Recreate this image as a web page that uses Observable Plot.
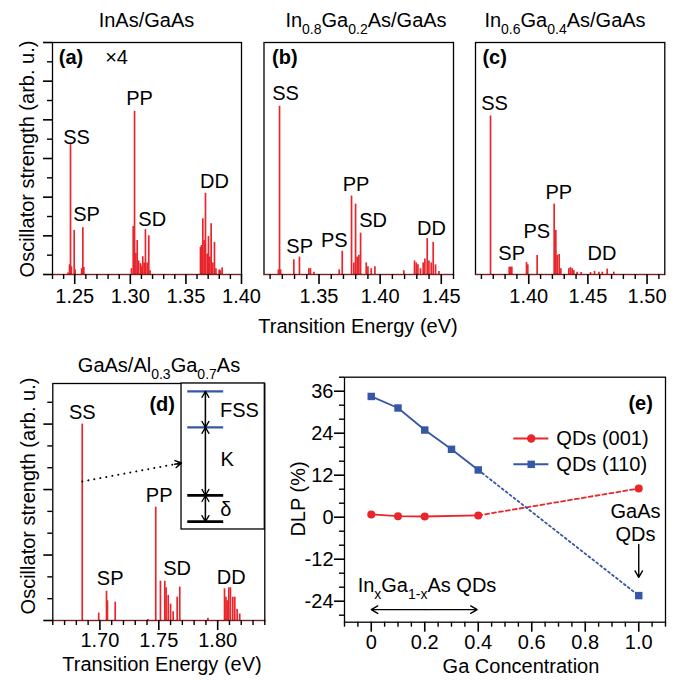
<!DOCTYPE html>
<html><head><meta charset="utf-8">
<script src="https://cdn.jsdelivr.net/npm/d3@7"></script>
<script src="https://cdn.jsdelivr.net/npm/@observablehq/plot@0.6"></script>
<style>
body{margin:0;background:#fff;}
#wrap{position:relative;width:682px;height:680px;overflow:hidden;background:#fff;}
#wrap svg{position:absolute;left:0;top:0;overflow:visible;}
</style></head><body><div id="wrap"></div>
<script>
const RED = "#e8262b", BLUE = "#3656a6";
const FONT = "'Liberation Sans', Arial, Helvetica, sans-serif";

// ---------- Data ----------
// (a) InAs/GaAs (x4)
const energyA = [1.2440,1.2453,1.2462,1.2470,1.2495,1.2503,1.2562,1.2573,1.2582,
  1.3010,1.3026,1.3038,1.3050,1.3062,1.3075,1.3092,1.3100,1.3112,1.3125,1.3136,1.3151,1.3166,1.3178,
  1.3631,1.3640,1.3652,1.3664,1.3676,1.3691,1.3703,1.3715,1.3727,1.3742,1.3757,1.3770,1.3799,1.3811,1.3826];
const strengthA = [0.04,0.25,3.36,0.2,1.14,0.12,0.15,1.21,0.18,
  0.15,1.24,4.22,0.55,0.88,0.35,0.28,0.2,0.46,0.3,1.16,0.3,1.0,0.1,
  0.7,0.75,1.44,0.88,2.1,0.53,0.98,0.45,1.31,0.3,0.83,0.15,0.12,0.1,0.17];
// (b) In0.8Ga0.2As/GaAs
const energyB = [1.3168,1.3177,1.3186, 1.3294,1.3340,1.3417,1.3430,1.3458, 1.3665,1.3690,
  1.3766,1.3785,1.3799,1.3812,1.3826,1.3840,1.3886,1.3900,1.3927,1.3957,
  1.4194,1.4281,1.4295,1.4309,1.4330,1.4352,1.4366,1.4385,1.4399,1.4418,1.4434,1.4453,1.4481];
const strengthB = [0.12,4.35,0.12, 0.38,0.45,0.15,0.15,0.06, 0.12,0.6,
  2.03,0.3,1.82,0.45,0.5,1.07,0.3,0.2,0.15,0.2,
  0.1,0.35,0.3,0.25,0.15,0.3,0.4,0.93,0.35,0.3,0.83,0.25,0.08];
// (c) In0.6Ga0.4As/GaAs
const energyC = [1.3677, 1.3835,1.3846,1.3857, 1.3981,1.3992, 1.4071,
  1.4215,1.4229,1.4240,1.4257,1.4271, 1.4339,1.4353,1.4367,1.4381,1.4409,1.4443,
  1.4522,1.4556,1.4593,1.4621,1.4663,1.4719];
const strengthC = [4.1, 0.19,0.19,0.19, 0.31,0.25, 0.49,
  1.82,1.14,0.5,0.52,0.15, 0.15,0.18,0.15,0.1,0.06,0.05,
  0.05,0.08,0.06,0.06,0.14,0.06];
// (d) GaAs/Al0.3Ga0.7As
const energyD = [1.6850, 1.6990, 1.7056,1.7064,1.7130, 1.7408,
  1.7474,1.7514,1.7551,1.7562,1.7580,1.7600,1.7622,1.7656,1.7678, 1.7917,
  1.8058,1.8070,1.8080,1.8094,1.8108,1.8128,1.8145,1.8165,1.8187];
const strengthD = [9.0, 0.34, 1.34,0.9,0.84, 0.05,
  5.19,1.8,1.8,1.5,1.15,0.75,0.4,1.07,1.53, 0.1,
  1.45,1.07,0.9,1.5,1.5,1.07,1.07,0.5,0.3];
// (e) DLP vs Ga concentration
const gaX110 = [0, 0.1, 0.2, 0.3, 0.4];
const dlp110 = [34.5, 31.2, 24.9, 19.4, 13.5];
const gaX001 = [0, 0.1, 0.2, 0.4];
const dlp001 = [0.8, 0.3, 0.2, 0.5];
const gaAsX = 1.0, gaAsDlp110 = -22.4, gaAsDlp001 = 8.2;

// Peak labels
const labelsA = [{t:"SS",e:1.2516,v:3.54},{t:"SP",e:1.2606,v:1.56},{t:"PP",e:1.3083,v:4.54},{t:"SD",e:1.3197,v:1.41},{t:"DD",e:1.3757,v:2.39},{t:"×4",e:1.2876,v:5.61}];
const labelsB = [{t:"SS",e:1.3226,v:4.67},{t:"SP",e:1.3342,v:0.71},{t:"PS",e:1.3625,v:0.88},{t:"PP",e:1.3803,v:2.33},{t:"SD",e:1.3942,v:1.40},{t:"DD",e:1.4419,v:1.20}];
const labelsC = [{t:"SS",e:1.3711,v:4.41},{t:"SP",e:1.3856,v:0.53},{t:"PS",e:1.4068,v:1.11},{t:"PP",e:1.4254,v:2.12},{t:"DD",e:1.4619,v:0.54}];
const labelsD = [{t:"SS",e:1.6850,v:9.54},{t:"SP",e:1.7087,v:1.91},{t:"PP",e:1.7503,v:5.73},{t:"SD",e:1.7656,v:2.37},{t:"DD",e:1.8115,v:1.98}];

// ---------- Layout ----------
const W = 682, H = 680;
const FA = {l:52, r:241, t:42, b:274};
const FB = {l:263.5, r:453, t:42, b:274};
const FC = {l:475, r:664.3, t:42, b:274};
const FD = {l:52.3, r:264.3, t:383, b:620};
const FE = {l:344, r:665, t:376.7, b:621.7};

const wrap = document.getElementById("wrap");
const baseStyle = {fontFamily: FONT, fontSize: "20px", background: "transparent", overflow: "visible", color: "black"};
function place(F, options) {
  const svg = Plot.plot({width: W, height: H, marginLeft: F.l, marginRight: W - F.r, marginTop: F.t, marginBottom: H - F.b, style: baseStyle, ...options});
  wrap.appendChild(svg);
  return svg;
}
const minors = (a, b, skip) => d3.range(a, b + 1).filter(i => i % skip !== 0);

function spectrum(F, energy, strength, xDomain, yDomain, xMajor, xMinor, yMajor, yMinor, labels, tag, extra, pad = 4) {
  const data = energy.map((e, i) => ({e, s: strength[i]}));
  const marks = [
    Plot.ruleX(data, {x: "e", y1: 0, y2: "s", stroke: RED, strokeWidth: 1.7}),
    Plot.frame({stroke: "black", strokeWidth: 1.3}),
    Plot.ruleY([0], {stroke: RED, strokeWidth: 1, strokeOpacity: 0.6}),
    Plot.axisX({ticks: xMajor, tickSize: 10, tickPadding: pad, tickFormat: d => d.toFixed(2), strokeWidth: 1.6, label: null}),
    Plot.axisX({ticks: xMinor, tickSize: 5, tickFormat: () => "", strokeWidth: 1.4, label: null})
  ];
  if (yMajor) marks.push(
    Plot.axisY({ticks: yMajor, tickSize: 9, tickFormat: () => "", strokeWidth: 1.6, label: null}),
    Plot.axisY({ticks: yMinor, tickSize: 5, tickFormat: () => "", strokeWidth: 1.4, label: null}));
  if (extra) marks.push(...extra);
  marks.push(Plot.text(labels, {x: "e", y: "v", text: "t", fontSize: 20}));
  marks.push(Plot.text([tag], {x: "e", y: "v", text: "t", fontSize: 20, fontWeight: "bold"}));
  const y = {domain: yDomain};
  if (!yMajor) y.axis = null;
  return place(F, {x: {domain: xDomain}, y, marks});
}

// (a)
spectrum(FA, energyA, strengthA, [1.23, 1.40], [0, 6], [1.25, 1.30, 1.35, 1.40],
  minors(123, 140, 5).map(i => i / 100), d3.range(0, 7), d3.range(0.5, 6, 1),
  labelsA, {t: "(a)", e: 1.2466, v: 5.61});
// (b)
spectrum(FB, energyB, strengthB, [1.305, 1.46], [0, 6], [1.35, 1.40, 1.45],
  minors(131, 146, 5).map(i => i / 100), null, null,
  labelsB, {t: "(b)", e: 1.3220, v: 5.61});
// (c)
spectrum(FC, energyC, strengthC, [1.355, 1.515], [0, 6], [1.40, 1.45, 1.50],
  minors(136, 151, 5).map(i => i / 100), null, null,
  labelsC, {t: "(c)", e: 1.3712, v: 5.61});

// (d) with inset
const insetBox = [{x1: 1.7693, x2: 1.84, y1: 4.17, y2: 10.86}];
const levels = [{v: 10.5, c: BLUE, w: 2.2}, {v: 8.85, c: BLUE, w: 2.2}, {v: 5.73, c: "black", w: 2.8}, {v: 4.53, c: "black", w: 2.8}];
const arrowX = 1.7896;
const levelArrows = [[10.5, 8.85], [8.85, 10.5], [8.85, 5.73], [5.73, 8.85], [5.73, 4.53], [4.53, 5.73]].map(([a, b]) => ({a, b}));
const insetText = [{t: "FSS", e: 1.8185, v: 9.62}, {t: "K", e: 1.8080, v: 7.38}, {t: "δ", e: 1.8069, v: 5.08}];
const pointer = [{x1: 1.685, y1: 6.37, x2: 1.7693, y2: 7.22}];
spectrum(FD, energyD, strengthD, [1.66, 1.84], [0, 10.86], [1.70, 1.75, 1.80],
  minors(166, 184, 5).map(i => i / 100), [0, 3, 6, 9], [1, 2, 4, 5, 7, 8, 10],
  labelsD, {t: "(d)", e: 1.7529, v: 9.9}, [
    Plot.rect(insetBox, {x1: "x1", x2: "x2", y1: "y1", y2: "y2", fill: "white", stroke: "black", strokeWidth: 1.3}),
    Plot.ruleY(levels, {y: "v", x1: 1.7746, x2: 1.8051, stroke: d => d.c, strokeWidth: d => d.w}),
    Plot.arrow(levelArrows, {x1: arrowX, x2: arrowX, y1: "a", y2: "b", stroke: "black", strokeWidth: 1.3, headLength: 8}),
    Plot.text(insetText, {x: "e", y: "v", text: "t", fontSize: 20}),
    Plot.link(pointer, {x1: "x1", y1: "y1", x2: "x2", y2: "y2", stroke: "black", strokeWidth: 2, strokeDasharray: "0.1,6", strokeLinecap: "round"}),
    Plot.arrow(pointer, {x1: "x1", y1: "y1", x2: "x2", y2: "y2", stroke: "black", strokeWidth: 1.5, headLength: 7, insetStart: 94})
  ], 2);

// (e)
const pts110 = gaX110.map((x, i) => ({x, y: dlp110[i]}));
const pts001 = gaX001.map((x, i) => ({x, y: dlp001[i]}));
const end110 = {x: gaAsX, y: gaAsDlp110}, end001 = {x: gaAsX, y: gaAsDlp001};
const legend = [{t: "QDs (001)", y: 22.5, c: RED, s: "circle"}, {t: "QDs (110)", y: 15.1, c: BLUE, s: "square"}];
const plotE = place(FE, {
  x: {domain: [-0.1, 1.1]}, y: {domain: [-30, 40]},
  marks: [
    Plot.frame({stroke: "black", strokeWidth: 1.3}),
    Plot.axisX({ticks: [0, 0.2, 0.4, 0.6, 0.8, 1.0], tickSize: 10, tickPadding: 3, tickFormat: d => d === 0 ? "0" : d.toFixed(1), strokeWidth: 1.6, label: null}),
    Plot.axisX({ticks: minors(-2, 22, 4).map(i => i * 0.05), tickSize: 5, tickFormat: () => "", strokeWidth: 1.4, label: null}),
    Plot.axisY({ticks: [-24, -12, 0, 12, 24, 36], tickSize: 10, tickPadding: 1, tickFormat: d => String(d), strokeWidth: 1.6, label: null}),
    Plot.axisY({ticks: minors(-7, 10, 3).map(i => i * 4), tickSize: 5, tickFormat: () => "", strokeWidth: 1.4, label: null}),
    Plot.line([pts001[pts001.length - 1], end001], {x: "x", y: "y", stroke: RED, strokeWidth: 1.8, strokeDasharray: "4,3"}),
    Plot.line([pts110[pts110.length - 1], end110], {x: "x", y: "y", stroke: BLUE, strokeWidth: 1.8, strokeDasharray: "2,3"}),
    Plot.line(pts001, {x: "x", y: "y", stroke: RED, strokeWidth: 1.8}),
    Plot.line(pts110, {x: "x", y: "y", stroke: BLUE, strokeWidth: 1.8}),
    Plot.dot([...pts001, end001], {x: "x", y: "y", r: 4, fill: RED, symbol: "circle"}),
    Plot.dot([...pts110, end110], {x: "x", y: "y", r: 4.2, fill: BLUE, symbol: "square"}),
    Plot.ruleY(legend, {y: "y", x1: 0.533, x2: 0.664, stroke: d => d.c, strokeWidth: 2}),
    Plot.dot(legend, {x: 0.598, y: "y", r: 4.2, fill: d => d.c, symbol: d => d.s}),
    Plot.text(legend, {x: 0.692, y: "y", text: "t", textAnchor: "start", fontSize: 20}),
    Plot.text([{t: "(e)", x: 1.007, y: 32.5}], {x: "x", y: "y", text: "t", fontSize: 20, fontWeight: "bold"}),
    Plot.text([{t: "GaAs\nQDs", x: 0.988, y: -1.5}], {x: "x", y: "y", text: "t", fontSize: 20, lineHeight: 1.12}),
    Plot.arrow([{x: 1.0, a: -7.8, b: -17.2}], {x1: "x", x2: "x", y1: "a", y2: "b", stroke: "black", strokeWidth: 1.4, headLength: 8}),
    Plot.arrow([{a: 0.2, b: 0.0}, {a: 0.2, b: 0.396}], {x1: "a", x2: "b", y1: -26.4, y2: -26.4, stroke: "black", strokeWidth: 1.4, headLength: 8})
  ]
});

// ---------- Titles and axis labels ----------
const ov = d3.select(wrap).append("svg").attr("width", W).attr("height", H)
  .style("font-family", FONT).style("font-size", "20px");
function rich(x, y, parts, rotate) {
  const t = ov.append("text").attr("x", x).attr("y", y).attr("text-anchor", "middle").attr("fill", "black");
  if (rotate) t.attr("transform", `rotate(-90 ${x} ${y})`);
  let shifted = false;
  for (const [s, sub] of parts) {
    const ts = t.append("tspan").text(s);
    if (sub && !shifted) { ts.attr("dy", 7); shifted = true; }
    else if (!sub && shifted) { ts.attr("dy", -7); shifted = false; }
    if (sub) ts.attr("font-size", 14);
  }
}
rich((FA.l + FA.r) / 2, 27, [["InAs/GaAs"]]);
rich(366, 27, [["In"], ["0.8", 1], ["Ga"], ["0.2", 1], ["As/GaAs"]]);
rich(565, 27, [["In"], ["0.6", 1], ["Ga"], ["0.4", 1], ["As/GaAs"]]);
rich(159, 372, [["GaAs/Al"], ["0.3", 1], ["Ga"], ["0.7", 1], ["As"]]);
rich(358, 333, [["Transition Energy (eV)"]]);
rich(162, 671, [["Transition Energy (eV)"]]);
rich(521, 673, [["Ga Concentration"]]);
rich(34, 159, [["Oscillator strength (arb. u.)"]], true);
rich(35, 496, [["Oscillator strength (arb. u.)"]], true);
rich(305, 499, [["DLP (%)"]], true);
rich(427, 592, [["In"], ["x", 1], ["Ga"], ["1-x", 1], ["As QDs"]]);
</script></body></html>
